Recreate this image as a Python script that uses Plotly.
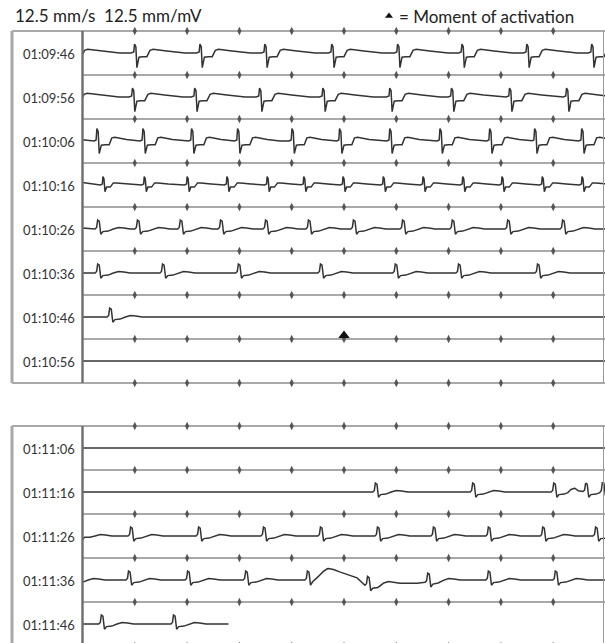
import numpy as np
import plotly.graph_objects as go

# ---------------- data ----------------
ROW_LABELS = ["01:09:46", "01:09:56", "01:10:06", "01:10:16", "01:10:26", "01:10:36",
              "01:10:46", "01:10:56", "01:11:06", "01:11:16", "01:11:26", "01:11:36",
              "01:11:46"]
ROW_SECONDS = 10.0

# beat (QRS) times in seconds from the start of each 10-s row
BEATS_R01 = [-0.24, 1.01, 2.26, 3.50, 4.78, 6.04, 7.27, 8.51, 9.75]
BEATS_R02 = [0.97, 2.16, 3.40, 4.61, 5.89, 7.07, 8.18, 9.27]
BEATS_R03 = [0.29, 1.17, 2.10, 2.98, 4.02, 4.93, 5.89, 6.85, 7.80, 8.66, 9.56]
BEATS_R04 = [0.40, 1.19, 2.01, 2.77, 3.54, 4.24, 4.99, 5.76, 6.52, 7.28, 8.03, 8.80, 9.56]
BEATS_R05 = [0.29, 1.05, 1.87, 2.64, 3.50, 4.32, 5.18, 6.12, 7.07, 8.13, 9.18]
BEATS_R06 = [0.29, 1.53, 2.98, 4.55, 5.98, 7.19, 8.70]
BEATS_R07 = [0.52]
BEATS_R08 = []
BEATS_R09 = []
BEATS_R10 = [5.60, 7.46, 9.01, 9.62, 9.94]
BEATS_R11 = [0.92, 2.22, 3.46, 4.55, 5.64, 6.71, 7.76, 8.80, 9.81]
BEATS_R12 = [0.88, 2.01, 3.12, 4.30, 5.45, 6.60, 7.76, 9.04]
BEATS_R13 = [0.36, 1.74]
ROW_BEATS = [BEATS_R01, BEATS_R02, BEATS_R03, BEATS_R04, BEATS_R05, BEATS_R06, BEATS_R07,
             BEATS_R08, BEATS_R09, BEATS_R10, BEATS_R11, BEATS_R12, BEATS_R13]

# beat shapes: offset from QRS (s) and amplitude (mV)
TPL_A_DT = [-0.08, -0.03, -0.015, 0.01, 0.03, 0.05, 0.07, 0.14, 0.22, 0.28, 0.34, 0.60, 0.95]
TPL_A_MV = [0.00, 0.02, 0.17, 0.12, -0.28, -0.20, -0.08, -0.07, -0.07, 0.05, 0.07, 0.04, 0.00]
TPL_B_DT = [-0.07, -0.03, -0.015, 0.01, 0.03, 0.05, 0.07, 0.14, 0.22, 0.27, 0.33, 0.55, 0.80]
TPL_B_MV = [0.00, 0.02, 0.24, 0.18, -0.24, -0.16, -0.08, -0.07, -0.07, 0.06, 0.07, 0.03, 0.00]
TPL_C_DT = [-0.06, -0.02, -0.01, 0.01, 0.03, 0.06, 0.13, 0.19, 0.25, 0.45, 0.68]
TPL_C_MV = [0.00, 0.02, 0.16, 0.12, -0.13, -0.04, -0.04, 0.04, 0.04, 0.02, 0.00]
TPL_D_DT = [-0.05, -0.02, 0.00, 0.03, 0.06, 0.10, 0.20, 0.30, 0.40, 0.50, 0.62]
TPL_D_MV = [0.00, 0.03, 0.17, 0.15, -0.10, -0.05, -0.04, 0.00, 0.03, 0.02, 0.00]
TEMPLATES = {"A": (TPL_A_DT, TPL_A_MV), "B": (TPL_B_DT, TPL_B_MV),
             "C": (TPL_C_DT, TPL_C_MV), "D": (TPL_D_DT, TPL_D_MV)}
ROW_TEMPLATE = ["A", "A", "B", "C", "D", "D", "D", "D", "D", "D", "D", "D", "D"]

# baseline wander (s, mV) for rows 01:11:16 and 01:11:36
WANDER = {
    9: ([9.28, 9.34, 9.42, 9.48], [0.00, 0.04, 0.04, 0.00]),
    11: ([4.38, 4.55, 4.68, 4.80, 4.93, 5.25, 5.40, 5.63, 5.76, 6.40, 6.78, 6.97],
         [0.00, 0.14, 0.19, 0.18, 0.15, 0.04, -0.10, -0.11, -0.06, -0.06, -0.02, 0.00]),
}
RECORD_END_LAST_ROW = 2.79          # signal stops in row 01:11:46
ACTIVATION_ROW = 6                  # row 01:10:46
ACTIVATION_T = 5.0                  # seconds into that row
SECOND_MARKS = [1, 2, 3, 4, 5, 6, 7, 8, 9]

# ---------------- layout constants (pixels) ----------------
W, H = 605, 643
X_DIV = 82.5          # strip start (t = 0)
PXS = 52.3            # px per second (12.5 mm/s)
GAIN = 52.3           # px per mV (12.5 mm/mV)
ROW_H = 44.0
PANEL_TOPS = [31.0, 426.0]
PANEL_ROWS = [8, 5]
X_LEFT, X_RIGHT = 12.0, 603.5


def t2x(px):
    return (px - X_DIV) / PXS


def row_center(k):
    if k < PANEL_ROWS[0]:
        return PANEL_TOPS[0] + ROW_H * k + ROW_H / 2
    return PANEL_TOPS[1] + ROW_H * (k - PANEL_ROWS[0]) + ROW_H / 2


fig = go.Figure()

# separators, frame
shapes = []
for p, (top, n) in enumerate(zip(PANEL_TOPS, PANEL_ROWS)):
    bottom = top + ROW_H * n
    seps = [top + ROW_H * i for i in range(n + 1)]
    for i, yy in enumerate(seps):
        full = (i == 0) or (i == n and p == 0)
        x0 = X_LEFT if full else X_DIV
        shapes.append(dict(type="line", xref="x", yref="y", x0=t2x(x0), x1=t2x(W),
                           y0=yy, y1=yy, line=dict(color="#8c8c8c", width=1.4), layer="below"))
    ybot = min(bottom, H + 5)
    shapes.append(dict(type="line", xref="x", yref="y", x0=t2x(X_LEFT), x1=t2x(X_LEFT),
                       y0=top, y1=ybot, line=dict(color="#a8a8a8", width=3)))
    shapes.append(dict(type="line", xref="x", yref="y", x0=t2x(X_DIV), x1=t2x(X_DIV),
                       y0=top, y1=ybot, line=dict(color="#6e6e6e", width=2.4)))
    shapes.append(dict(type="line", xref="x", yref="y", x0=t2x(X_RIGHT), x1=t2x(X_RIGHT),
                       y0=top, y1=ybot, line=dict(color="#9a9a9a", width=1)))
    # second marks on separators
    mx, my = [], []
    for yy in seps:
        for s in SECOND_MARKS:
            mx.append(s)
            my.append(yy)
    fig.add_trace(go.Scatter(x=mx, y=my, mode="markers", hoverinfo="skip", showlegend=False,
                             marker=dict(symbol="diamond-tall", size=6, color="#555555")))

# ECG rows
n_rows = len(ROW_LABELS)
for k in range(n_rows):
    end = RECORD_END_LAST_ROW if k == n_rows - 1 else ROW_SECONDS
    beats = [(b, ROW_TEMPLATE[k]) for b in ROW_BEATS[k]]
    if k > 0:
        beats += [(b - ROW_SECONDS, ROW_TEMPLATE[k - 1]) for b in ROW_BEATS[k - 1]]
    grid = [0.0, end]
    for b, tp in beats:
        grid += [b + d for d in TEMPLATES[tp][0]]
    if k in WANDER:
        grid += WANDER[k][0]
    grid = np.unique(np.clip(np.array(grid), 0.0, end))
    amp = np.zeros_like(grid)
    for b, tp in beats:
        dt, mv = TEMPLATES[tp]
        amp += np.interp(grid, b + np.array(dt), np.array(mv), left=0.0, right=0.0)
    if k in WANDER:
        wt, wm = WANDER[k]
        amp += np.interp(grid, np.array(wt), np.array(wm), left=0.0, right=0.0)
    fig.add_trace(go.Scatter(x=grid, y=row_center(k) - amp * GAIN, mode="lines",
                             hoverinfo="skip", showlegend=False,
                             line=dict(color="#333333", width=1.5)))

# activation marker
act_y = row_center(ACTIVATION_ROW) + ROW_H / 2
fig.add_trace(go.Scatter(x=[ACTIVATION_T], y=[act_y - 3.5], mode="markers", showlegend=False,
                         hoverinfo="skip",
                         marker=dict(symbol="triangle-up", size=10, color="#111111")))
# legend glyph
fig.add_trace(go.Scatter(x=[t2x(389)], y=[16], mode="markers", showlegend=False,
                         hoverinfo="skip",
                         marker=dict(symbol="triangle-up", size=7, color="#111111")))

annotations = []
FONT = "Lato, sans-serif"
for k, lab in enumerate(ROW_LABELS):
    annotations.append(dict(x=77 / W, xref="paper", y=row_center(k) + 1, yref="y",
                            text=lab, showarrow=False, xanchor="right", yanchor="middle",
                            font=dict(family=FONT, size=13, color="#333333")))
annotations.append(dict(x=13 / W, xref="paper", y=15, yref="y",
                        text="12.5 mm/s\u00a0\u00a012.5 mm/mV", showarrow=False,
                        xanchor="left", yanchor="middle",
                        font=dict(family=FONT, size=17, color="#222222")))
annotations.append(dict(x=397 / W, xref="paper", y=16, yref="y",
                        text="= Moment of activation", showarrow=False,
                        xanchor="left", yanchor="middle",
                        font=dict(family=FONT, size=17, color="#222222")))

fig.update_layout(
    width=W, height=H, margin=dict(l=0, r=0, t=0, b=0),
    paper_bgcolor="white", plot_bgcolor="white",
    xaxis=dict(range=[t2x(0), t2x(W)], visible=False, fixedrange=True),
    yaxis=dict(range=[H, 0], visible=False, fixedrange=True),
    shapes=shapes, annotations=annotations,
)
fig.write_html("out.html", config={"displayModeBar": False},
               post_script="document.body.style.margin='0';"
                           "document.body.style.overflow='hidden';")
